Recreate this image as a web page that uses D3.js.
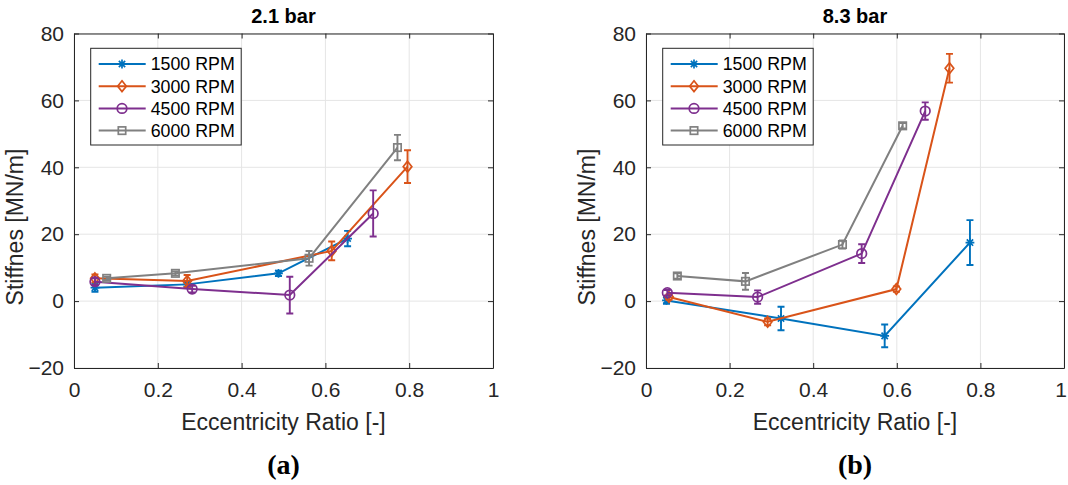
<!DOCTYPE html>
<html>
<head>
<meta charset="utf-8">
<script src="https://cdn.jsdelivr.net/npm/d3@7"></script>
<style>
  html, body { margin: 0; padding: 0; background: #fff; }
  svg { display: block; }
</style>
</head>
<body>
<svg id="fig" width="1068" height="485"></svg>
<script>
// Series labels and shared tick values
const rpmLabels = ["1500 RPM", "3000 RPM", "4500 RPM", "6000 RPM"];
const xTicks = [0, 0.2, 0.4, 0.6, 0.8, 1];
const yTicks = [-20, 0, 20, 40, 60, 80];

// 2.1 bar: eccentricity ratio, stiffness [MN/m] and error half-width, one row per speed
const ecc21 = [
  [0.050, 0.270, 0.488, 0.653],
  [0.050, 0.270, 0.615, 0.796],
  [0.050, 0.282, 0.515, 0.714],
  [0.078, 0.242, 0.561, 0.772]
];
const stiff21 = [
  [4.0, 5.0, 8.3, 18.7],
  [6.8, 6.0, 15.0, 40.2],
  [5.8, 3.6, 1.8, 26.2],
  [6.8, 8.3, 12.8, 45.9]
];
const err21 = [
  [1.2, 0.8, 0.8, 2.3],
  [1.2, 1.8, 2.8, 4.9],
  [1.0, 1.0, 5.5, 6.9],
  [0.5, 0.6, 2.2, 3.8]
];

// 8.3 bar
const ecc83 = [
  [0.049, 0.323, 0.571, 0.775],
  [0.055, 0.291, 0.599, 0.726],
  [0.051, 0.267, 0.516, 0.668],
  [0.075, 0.238, 0.470, 0.614]
];
const stiff83 = [
  [0.2, -5.2, -10.4, 17.5],
  [1.2, -6.2, 3.6, 69.6],
  [2.5, 1.2, 14.2, 56.8],
  [7.5, 5.9, 16.9, 52.4]
];
const err83 = [
  [1.0, 3.5, 3.4, 6.7],
  [0.8, 1.0, 0.8, 4.3],
  [0.8, 2.0, 2.8, 2.6],
  [0.8, 2.5, 1.2, 0.8]
];

const colors = ["#0072BD", "#D95319", "#7E2F8E", "#808080"];
const markers = ["asterisk", "diamond", "circle", "square"];
const axisColor = "#262626";
const sans = "'Liberation Sans', Arial, Helvetica, sans-serif";
const figWidth = 1068;

const svg = d3.select("#fig");

const panels = [
  { title: "2.1 bar", caption: "(a)", left: 74, right: 493, ecc: ecc21, stiff: stiff21, err: err21 },
  { title: "8.3 bar", caption: "(b)", left: 646, right: 1064, ecc: ecc83, stiff: stiff83, err: err83 }
];
const plotTop = 33.5, plotBottom = 368;

function drawMarker(g, kind, cx, cy, color) {
  const s = g.append("g").attr("transform", `translate(${cx},${cy})`)
    .attr("stroke", color).attr("fill", "none").attr("stroke-width", 1.7);
  if (kind === "asterisk") {
    const r = 4.4, d = r * 0.72;
    s.append("path").attr("d",
      `M${-r},0H${r}M0,${-r}V${r}M${-d},${-d}L${d},${d}M${-d},${d}L${d},${-d}`);
  } else if (kind === "diamond") {
    const r = 5.4;
    s.append("path").attr("d", `M0,${-r}L${r * 0.8},0L0,${r}L${-r * 0.8},0Z`);
  } else if (kind === "circle") {
    s.append("circle").attr("r", 4.8);
  } else {
    s.append("rect").attr("x", -3.7).attr("y", -3.7).attr("width", 7.4).attr("height", 7.4);
  }
}

panels.forEach(p => {
  const x = d3.scaleLinear().domain([0, 1]).range([p.left, p.right]);
  const y = d3.scaleLinear().domain([-20, 80]).range([plotBottom, plotTop]);
  const g = svg.append("g");

  // grid
  g.append("g").selectAll("line").data(xTicks).join("line")
    .attr("x1", d => x(d)).attr("x2", d => x(d)).attr("y1", plotTop).attr("y2", plotBottom)
    .attr("stroke", "#e5e5e5").attr("stroke-width", 1);
  g.append("g").selectAll("line").data(yTicks).join("line")
    .attr("x1", p.left).attr("x2", p.right).attr("y1", d => y(d)).attr("y2", d => y(d))
    .attr("stroke", "#e5e5e5").attr("stroke-width", 1);

  // axes (ticks pointing inward, box on)
  const ax = (gen, tf) => {
    const a = g.append("g").attr("transform", tf).call(gen);
    a.select(".domain").attr("stroke", axisColor);
    a.selectAll(".tick line").attr("stroke", axisColor);
    a.selectAll("text").attr("fill", axisColor).attr("font-family", sans).attr("font-size", 21);
    return a;
  };
  const xAxis = ax(d3.axisBottom(x).tickValues(xTicks).tickSize(-5).tickPadding(14).tickSizeOuter(0)
      .tickFormat(d => d3.format("")(d)), `translate(0,${plotBottom})`);
  // keep the rightmost tick label inside the figure
  xAxis.selectAll(".tick").each(function () {
    const t = d3.select(this).select("text");
    const b = this.getBBox();
    const m = this.getCTM();
    const overshoot = m.e + b.x + b.width - (figWidth - 1);
    if (overshoot > 0) t.attr("dx", -overshoot);
  });
  ax(d3.axisLeft(y).tickValues(yTicks).tickSize(-5).tickPadding(10).tickSizeOuter(0),
      `translate(${p.left},0)`);
  ax(d3.axisTop(x).tickValues(xTicks).tickSize(-5).tickSizeOuter(0).tickFormat(""),
      `translate(0,${plotTop})`);
  ax(d3.axisRight(y).tickValues(yTicks).tickSize(-5).tickSizeOuter(0).tickFormat(""),
      `translate(${p.right},0)`);

  // series
  const line = d3.line().x(d => x(d[0])).y(d => y(d[1]));
  p.ecc.forEach((row, i) => {
    const pts = row.map((e, j) => [e, p.stiff[i][j], p.err[i][j]]);
    const sg = g.append("g");
    sg.append("path").datum(pts).attr("d", line).attr("fill", "none")
      .attr("stroke", colors[i]).attr("stroke-width", 2);
    pts.forEach(d => {
      const cx = x(d[0]), y0 = y(d[1] - d[2]), y1 = y(d[1] + d[2]);
      sg.append("path")
        .attr("d", `M${cx},${y0}V${y1}M${cx - 3.5},${y0}H${cx + 3.5}M${cx - 3.5},${y1}H${cx + 3.5}`)
        .attr("stroke", colors[i]).attr("stroke-width", 1.9).attr("fill", "none");
      drawMarker(sg, markers[i], cx, y(d[1]), colors[i]);
    });
  });

  // legend
  const lx = p.left + 16.7, ly = 48.3, lw = 150.5, lh = 96.7;
  const lg = g.append("g");
  lg.append("rect").attr("x", lx).attr("y", ly).attr("width", lw).attr("height", lh)
    .attr("fill", "#fff").attr("stroke", axisColor).attr("stroke-width", 1);
  rpmLabels.forEach((lab, i) => {
    const ry = 64 + i * 22.2;
    lg.append("line").attr("x1", lx + 8).attr("x2", lx + 55).attr("y1", ry).attr("y2", ry)
      .attr("stroke", colors[i]).attr("stroke-width", 2);
    drawMarker(lg, markers[i], lx + 31.3, ry, colors[i]);
    lg.append("text").attr("x", lx + 60).attr("y", ry + 6.3).text(lab)
      .attr("font-family", sans).attr("font-size", 17.8).attr("fill", "#000");
  });

  const cx = (p.left + p.right) / 2;
  g.append("text").attr("x", cx).attr("y", 23).attr("text-anchor", "middle")
    .attr("font-family", sans).attr("font-weight", "bold").attr("font-size", 20)
    .attr("fill", "#000").text(p.title);
  g.append("text").attr("x", cx).attr("y", 430).attr("text-anchor", "middle")
    .attr("font-family", sans).attr("font-size", 23).attr("fill", axisColor)
    .text("Eccentricity Ratio [-]");
  g.append("text").attr("transform", `translate(${p.left - 51},227) rotate(-90)`)
    .attr("text-anchor", "middle")
    .attr("font-family", sans).attr("font-size", 23).attr("fill", axisColor)
    .text("Stiffnes [MN/m]");
  g.append("text").attr("x", cx).attr("y", 474).attr("text-anchor", "middle")
    .attr("font-family", "'Liberation Serif', 'DejaVu Serif', serif").attr("font-weight", "bold")
    .attr("font-size", 28).attr("fill", "#000").text(p.caption);
});
</script>
</body>
</html>
